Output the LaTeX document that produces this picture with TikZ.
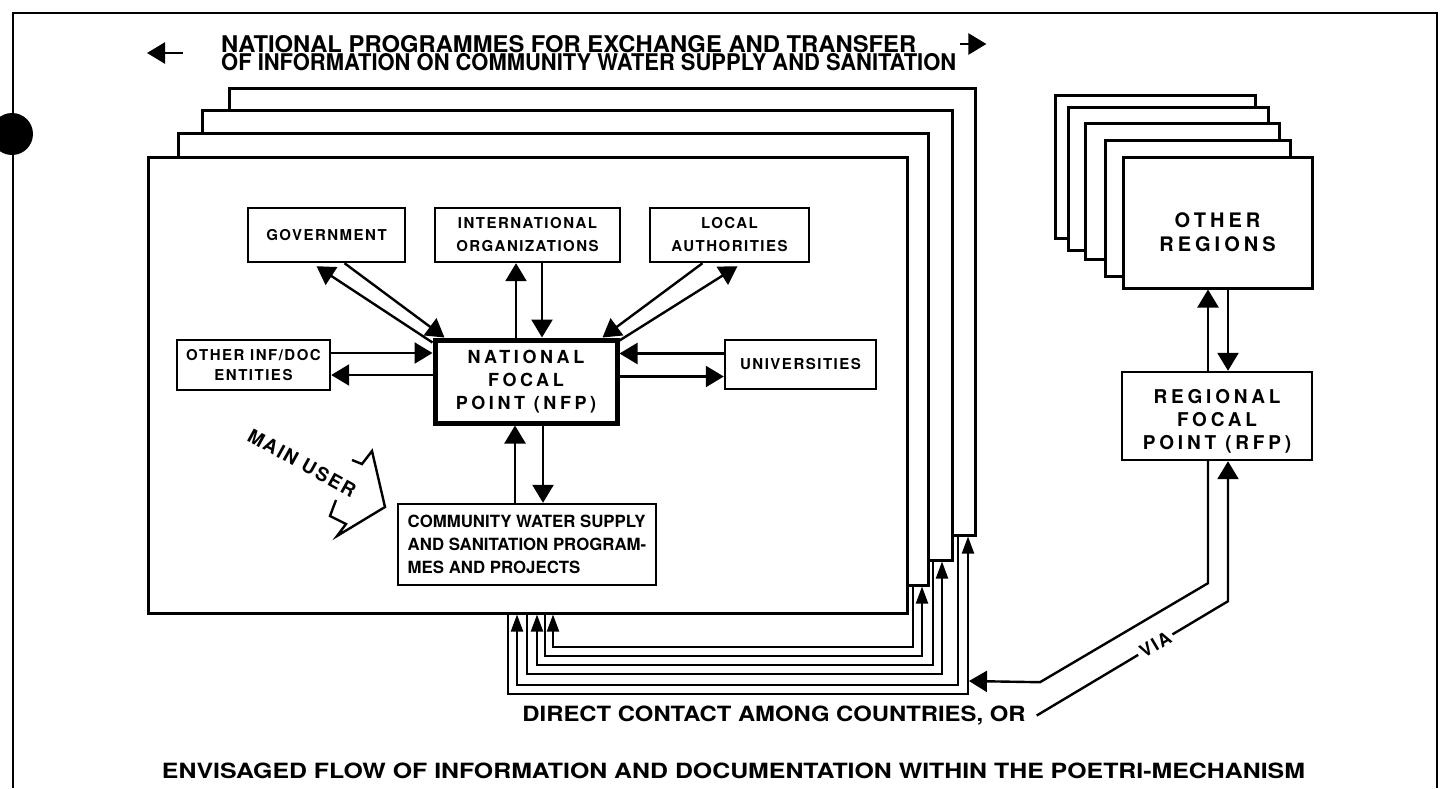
\documentclass[tikz,border=0pt]{standalone}
\usepackage{fontspec}
\setmainfont{TeX Gyre Heros}
\newfontfamily\boxfont{TeX Gyre Heros}[LetterSpace=10]
\newfontfamily\widefont{TeX Gyre Heros}[LetterSpace=20]
\usetikzlibrary{arrows.meta,positioning,calc}
\newcommand{\fitw}[2]{\resizebox{#1}{\height}{#2}}

\begin{document}
\begin{tikzpicture}[x=1pt,y=-1pt,line width=2.4pt,
    >={Triangle[width=21pt,length=18pt]},
    flow/.style={->},
    link/.style={->,line width=2pt,>={Triangle[width=12pt,length=17pt]}},
    sheet/.style={draw,fill=white,line width=3pt,inner sep=0pt},
    box/.style={draw,fill=white,inner sep=0pt,align=center,
      font=\boxfont\bfseries\fontsize{15}{23}\selectfont},
    bigbox/.style={box,font=\widefont\bfseries\fontsize{18}{23}\selectfont},
    label/.style={inner sep=0pt,font=\bfseries\fontsize{21}{21}\selectfont}]

  \fill[white] (0,0) rectangle (1448,788);
  \useasboundingbox (0,0) rectangle (1448,788);

  % page frame and punch hole
  \draw[line width=2.6pt] (13,788) -- (13,13) -- (1437,13) -- (1437,788);
  \fill (12,134) circle (21pt);

  % title
  \node[label,anchor=west,align=left,font=\bfseries\fontsize{23}{18.5}\selectfont] (title) at (220,53)
    {\fitw{695pt}{NATIONAL PROGRAMMES FOR EXCHANGE AND TRANSFER}\\
     \fitw{735pt}{OF INFORMATION ON COMMUNITY WATER SUPPLY AND SANITATION}};
  \draw[flow] ([xshift=-37pt]title.west) -- ++(-36,0);
  \draw[flow] ([shift={(3pt,9pt)}]title.east) -- ++(26,0);

  % national programmes, one sheet per country
  \foreach \n/\cx/\cy/\w/\h in {c1/602/311.5/746/447, c2/577/335/750/450,
                                c3/553/359/750/452, c4/527.5/385/759/456}
    \node[sheet,minimum width=\w pt,minimum height=\h pt] (\n) at (\cx,\cy) {};

  \node[bigbox,line width=5pt,minimum width=182pt,minimum height=83pt] (nfp) at (526,381.5)
    {NATIONAL\\FOCAL\\POINT (NFP)};
  \node[box,minimum width=157pt,minimum height=54pt] (gov) at (326.5,235) {GOVERNMENT};
  \node[box,minimum width=185pt,minimum height=54pt] (intl) at (527.5,235)
    {INTERNATIONAL\\ORGANIZATIONS};
  \node[box,minimum width=159pt,minimum height=54pt] (local) at (729.5,235) {LOCAL\\AUTHORITIES};
  \node[box,minimum width=153pt,minimum height=50pt,
        font=\boxfont\bfseries\fontsize{15}{20}\selectfont] (infdoc) at (253.5,365)
    {OTHER INF/DOC\\ENTITIES};
  \node[box,minimum width=151pt,minimum height=49pt] (univ) at (800.5,364.5) {UNIVERSITIES};
  \node[box,align=left,minimum width=258pt,minimum height=81pt,
        font=\bfseries\fontsize{16.8}{23}\selectfont] (cws) at (527,544.5)
    {COMMUNITY WATER SUPPLY\\AND SANITATION PROGRAM-\\MES AND PROJECTS};

  \draw[flow] ([xshift=18pt]gov.south) -- ([xshift=12pt]nfp.north west);
  \draw[flow] ([yshift=-5pt]nfp.north west) -- ([shift={(-10pt,-3pt)}]gov.south);
  \draw[flow] ([xshift=-10pt]nfp.north) -- ([xshift=-10pt]nfp.north |- intl.south);
  \draw[flow] ([xshift=16pt]nfp.north |- intl.south) -- ([xshift=16pt]nfp.north);
  \draw[flow] ([xshift=-27pt]local.south) -- ([xshift=-17pt]nfp.north east);
  \draw[flow] ([yshift=-3pt]nfp.north east) -- ([shift={(8pt,-3pt)}]local.south);
  \draw[flow] ([yshift=12pt]infdoc.east) -- ([yshift=12pt]infdoc.east -| nfp.west);
  \draw[flow] ([yshift=-10pt]infdoc.east -| nfp.west) -- ([yshift=-10pt]infdoc.east);
  \draw[flow] ([yshift=11pt]univ.west) -- ([yshift=11pt]univ.west -| nfp.east);
  \draw[flow] ([yshift=-12pt]univ.west -| nfp.east) -- ([yshift=-12pt]univ.west);
  \draw[flow] ([xshift=-12pt]cws.north) -- ([xshift=-12pt]cws.north |- nfp.south);
  \draw[flow] ([xshift=16pt]cws.north |- nfp.south) -- ([xshift=16pt]cws.north);

  % main user
  \node[font=\boxfont\bfseries\fontsize{19}{19}\selectfont,rotate=-29,inner sep=0pt] (user) at (302,463)
    {MAIN USER};
  \draw[line join=miter] (352,460) -- (362,464) -- (372,451) -- (385,507) -- (337,536)
    -- (346,524) -- (330,516) -- (336,500);

  % direct contact among countries
  \foreach \b/\xa/\xb/\xc/\xd/\ya/\yb in {c3/913/922/553/545/647/656,
                                          c2/933/942/537/527/665/674,
                                          c1/958/968/517/508/685/694} {
    \draw[link] (\xa,0 |- \b.south) |- (\xc,\ya) -- (\xc,0 |- c4.south);
    \draw[link] (\xd,0 |- c4.south) |- (\xb,\yb) -- (\xb,0 |- \b.south);
  }

  % other regions
  \foreach \l/\t/\r/\b in {1055/95/1255/238, 1068/107/1268/250, 1085/123/1279/259, 1105/140/1290/276}
    \draw[sheet] (\l,\t) rectangle (\r,\b);
  \node[box,line width=3pt,minimum width=189pt,minimum height=131pt] (regions) at (1217.5,222.5) {};
  \node[align=center,font=\widefont\bfseries\fontsize{20}{24}\selectfont] (regtext)
    at ([yshift=-10pt]regions.center) {OTHER\\REGIONS};
  \node[box,minimum width=190pt,minimum height=88pt] (rfp) at (1217,416) {};
  \node[align=center,font=\widefont\bfseries\fontsize{19}{23}\selectfont] (rfptext)
    at ([yshift=-5pt]rfp.center) {REGIONAL\\FOCAL\\POINT (RFP)};
  \draw[flow] ([xshift=-9pt]rfp.north) -- ([xshift=-9pt]rfp.north |- regions.south);
  \draw[flow] ([xshift=11pt]rfp.north |- regions.south) -- ([xshift=11pt]rfp.north);

  % texts below
  \node[label] (direct) at (774,715.5) {\fitw{503pt}{DIRECT CONTACT AMONG COUNTRIES, OR}};
  \node[label] (caption) at (733.5,771)
    {\fitw{1143pt}{ENVISAGED FLOW OF INFORMATION AND DOCUMENTATION WITHIN THE POETRI-MECHANISM}};

  \coordinate (hit) at (969,681);
  \draw[flow] ([xshift=-9pt]rfp.south) -- ($(rfp.south)+(-9,122)$) -- ($(rfp.south)+(-177,221)$) -- (hit);
  \draw[flow] ([xshift=10pt]direct.east) -- node[sloped,pos=0.62,fill=white,inner sep=3pt,
      font=\boxfont\bfseries\fontsize{18}{18}\selectfont] (via) {VIA}
    ($(rfp.south)+(11,140)$) -- ([xshift=11pt]rfp.south);
\end{tikzpicture}
\end{document}
